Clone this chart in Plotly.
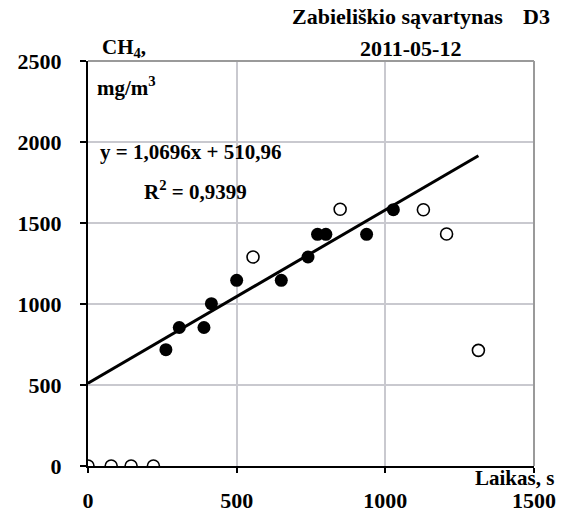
import plotly.graph_objects as go

# Measurements used for the regression (filled markers)
t_fit = [262, 307, 390, 415, 500, 650, 740, 772, 800, 937, 1027]
ch4_fit = [718, 855, 855, 1002, 1146, 1146, 1290, 1430, 1430, 1430, 1582]

# Measurements excluded from the regression (open markers)
t_other = [0, 78, 145, 220, 555, 848, 1128, 1206, 1313]
ch4_other = [0, 0, 0, 0, 1290, 1585, 1582, 1432, 714]

# Linear trend reported on the chart
slope = 1.0696
intercept = 510.96
t_line = [0, 1313]
ch4_line = [slope * t + intercept for t in t_line]

x_ticks = [0, 500, 1000, 1500]
y_ticks = [0, 500, 1000, 1500, 2000, 2500]

FONT = "Liberation Serif"

fig = go.Figure()

fig.add_trace(go.Scatter(
    x=t_line, y=ch4_line, mode="lines",
    line=dict(color="black", width=3), hoverinfo="skip", showlegend=False,
))
fig.add_trace(go.Scatter(
    x=t_other, y=ch4_other, mode="markers",
    marker=dict(symbol="circle-open", size=12, color="black", line=dict(width=1.6)),
    showlegend=False,
))
fig.add_trace(go.Scatter(
    x=t_fit, y=ch4_fit, mode="markers",
    marker=dict(symbol="circle", size=13, color="black"),
    showlegend=False,
))

axis_font = dict(family=FONT, size=22, color="black", weight="bold")

fig.update_xaxes(
    range=[0, 1500], tickvals=x_ticks, ticktext=[str(v) for v in x_ticks],
    showgrid=True, gridcolor="#c9c9cf", gridwidth=1.5,
    showline=True, linecolor="black", linewidth=2, zeroline=False,
    ticks="outside", ticklen=5, tickwidth=2, tickcolor="black",
    tickfont=axis_font, ticklabelstandoff=9, automargin=False,
)
fig.update_yaxes(
    range=[0, 2500], tickvals=y_ticks, ticktext=[str(v) for v in y_ticks],
    showgrid=True, gridcolor="#c9c9cf", gridwidth=1.5,
    showline=True, linecolor="black", linewidth=2, zeroline=False,
    ticks="outside", ticklen=6, tickwidth=2, tickcolor="black",
    tickfont=axis_font, ticklabelstandoff=14, automargin=False,
)

# Grey frame along the top and right edges of the plotting area
fig.add_shape(type="line", xref="paper", yref="paper", x0=0, x1=1, y0=1, y1=1,
              line=dict(color="#9a9a9a", width=2))
fig.add_shape(type="line", xref="paper", yref="paper", x0=1, x1=1, y0=0, y1=1,
              line=dict(color="#9a9a9a", width=2))

bold = dict(family=FONT, size=21, color="black")
title_font = dict(family=FONT, size=22, color="black")
notes = [
    dict(x=0.935, y=1.109, text="<b>Zabieliškio sąvartynas</b>", xanchor="right", font=title_font),
    dict(x=1.040, y=1.109, text="<b>D3</b>", xanchor="right", font=title_font),
    dict(x=0.724, y=1.032, text="<b>2011-05-12</b>", xanchor="center", font=title_font),
    dict(x=0.027, y=1.032, text="<b>CH<sub>4</sub>,</b>", xanchor="left", font=bold),
    dict(x=0.016, y=0.938, text="<b>mg/m<sup>3</sup></b>", xanchor="left", font=bold),
    dict(x=0.229, y=0.775, text="<b>y = 1,0696x + 510,96</b>", xanchor="center", font=bold),
    dict(x=0.242, y=0.681, text="<b>R<sup>2</sup> = 0,9399</b>", xanchor="center", font=bold),
    dict(x=1.049, y=-0.030, text="<b>Laikas, s</b>", xanchor="right", font=bold),
]
for n in notes:
    fig.add_annotation(xref="paper", yref="paper", showarrow=False,
                       yanchor="middle", **n)

fig.update_layout(
    width=562, height=518,
    margin=dict(l=88, r=28, t=61, b=52),
    paper_bgcolor="white", plot_bgcolor="white",
)

fig.write_html("out.html")
